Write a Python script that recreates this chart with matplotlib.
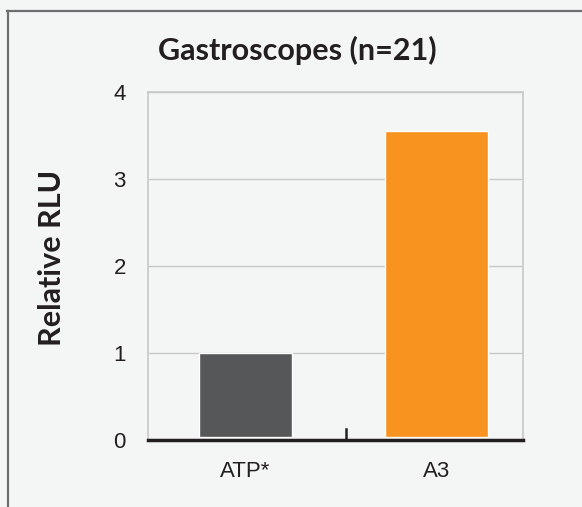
import matplotlib.pyplot as plt
from matplotlib.lines import Line2D

# data
categories = ['ATP*', 'A3']
relative_rlu = [1.0, 3.55]
bar_colors = ['#565759', '#F7931E']
yticks = [0, 1, 2, 3, 4]

W, H = 582, 507
bg = '#F4F6F6'
gap = 0.03  # small white gap between bars and the axis line

fig = plt.figure(figsize=(W / 100, H / 100), dpi=100, facecolor=bg)
ax = fig.add_axes([148 / W, 1 - 440 / H, (523 - 148) / W, (440 - 92) / H])
ax.set_facecolor(bg)

pos = [0, 1]
widths = [0.487, 0.539]
ax.bar(pos, [v - gap for v in relative_rlu], width=widths, color=bar_colors,
       edgecolor='white', linewidth=1.0, zorder=3, bottom=gap)

ax.set_xlim(-0.51, 1.453)
ax.set_ylim(0, 4)
ax.set_yticks(yticks)
ax.set_yticklabels([str(t) for t in yticks], family='Liberation Sans', fontsize=16, color='#231F20')
ax.tick_params(axis='y', length=0, pad=16)
ax.set_xticks(pos)
ax.set_xticklabels(categories, family='Liberation Sans', fontsize=16, color='#231F20')
ax.tick_params(axis='x', length=0, pad=15)

# middle divider tick
ax.plot([0.526, 0.526], [0, 0.13], color='#231F20', lw=1.8, zorder=4, clip_on=False)

ax.grid(axis='y', color='#C8C8C8', lw=1.0, zorder=0)
for s in ['left', 'right', 'top']:
    ax.spines[s].set_color('#C8C8C8')
    ax.spines[s].set_linewidth(1.2)
ax.spines['bottom'].set_color('#231F20')
ax.spines['bottom'].set_linewidth(2.5)
ax.spines['bottom'].set_zorder(5)

fig.text(297 / W, 1 - 50 / H, 'Gastroscopes (n=21)', family='Lato', fontweight='bold',
         fontsize=22, color='#231F20', ha='center', va='center')
fig.text(52 / W, 1 - 258 / H, 'Relative RLU', family='Lato', fontweight='bold',
         fontsize=22, color='#231F20', ha='center', va='center', rotation=90)

# outer frame (top and left visible)
fig.add_artist(Line2D([7 / W, 1], [1 - 11 / H, 1 - 11 / H], color='#6D6E70', lw=1.6))
fig.add_artist(Line2D([7.5 / W, 7.5 / W], [0, 1 - 11 / H], color='#6D6E70', lw=1.6))

fig.savefig('out.png', dpi=100, facecolor=bg)
